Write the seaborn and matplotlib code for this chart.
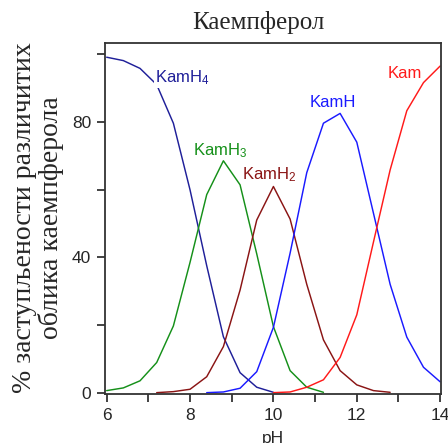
import matplotlib
matplotlib.use("Agg")
import matplotlib.pyplot as plt
import seaborn as sns
import pandas as pd

# ---- data ----
ph_kamh4 = [6.0, 6.4, 6.8, 7.2, 7.6, 8.0, 8.4, 8.8, 9.2, 9.6, 10.0]
val_kamh4 = [99.1, 98.1, 95.8, 91.0, 79.6, 59.9, 37.5, 16.5, 5.9, 1.6, 0.1]

ph_kamh3 = [6.0, 6.4, 6.8, 7.2, 7.6, 8.0, 8.4, 8.8, 9.2, 9.6, 10.0, 10.4, 10.8, 11.2]
val_kamh3 = [0.6, 1.4, 3.5, 8.9, 19.7, 38.5, 58.5, 68.5, 61.4, 41.0, 19.5, 6.5, 1.6, 0.1]

ph_kamh2 = [7.2, 7.6, 8.0, 8.4, 8.8, 9.2, 9.6, 10.0, 10.4, 10.8, 11.2, 11.6, 12.0, 12.4, 12.8]
val_kamh2 = [0.0, 0.3, 1.0, 4.7, 13.6, 30.3, 51.0, 60.9, 51.3, 32.0, 15.6, 6.5, 2.3, 0.6, 0.1]

ph_kamh = [8.4, 8.8, 9.2, 9.6, 10.0, 10.4, 10.8, 11.2, 11.6, 12.0, 12.4, 12.8, 13.2, 13.6, 14.0]
val_kamh = [0.0, 0.2, 1.3, 6.2, 19.3, 41.2, 65.0, 79.6, 82.5, 74.0, 53.0, 32.0, 16.4, 7.5, 3.2]

ph_kam = [10.0, 10.4, 10.8, 11.2, 11.6, 12.0, 12.4, 12.8, 13.2, 13.6, 14.0]
val_kam = [0.0, 0.2, 1.6, 3.8, 10.4, 23.0, 44.5, 65.8, 83.3, 91.6, 96.5]

species = ["KamH4", "KamH3", "KamH2", "KamH", "Kam"]
label_texts = ["KamH$_4$", "KamH$_3$", "KamH$_2$", "KamH", "Kam"]
label_ph = [7.16, 8.08, 9.24, 10.86, 12.73]
label_val = [91.6, 70.2, 63.0, 84.5, 92.9]
colors = ["#1f1f99", "#159019", "#8a1414", "#1a1aff", "#ff1a1a"]

title_text = "Каемпферол"
ylabel_text = "% заступљености различитих\nоблика каемпферола"
xlabel_text = "pH"
xticks_major = [6, 8, 10, 12, 14]
yticks_major = [0, 40, 80]

# ---- build long table ----
frames = []
for name, xs, ys in zip(species,
                        [ph_kamh4, ph_kamh3, ph_kamh2, ph_kamh, ph_kam],
                        [val_kamh4, val_kamh3, val_kamh2, val_kamh, val_kam]):
    frames.append(pd.DataFrame({"pH": xs, "pct": ys, "species": name}))
df = pd.concat(frames, ignore_index=True)

sns.set_style("white")
plt.rcParams["font.family"] = ["Liberation Sans", "DejaVu Sans"]
plt.rcParams["mathtext.fontset"] = "custom"
plt.rcParams["mathtext.rm"] = "Liberation Sans"
plt.rcParams["mathtext.it"] = "Liberation Sans"

fig = plt.figure(figsize=(4.48, 4.43), dpi=100)
ax = fig.add_axes([105 / 448, 1 - 394 / 443, 336 / 448, 351 / 443])

sns.lineplot(data=df, x="pH", y="pct", hue="species", hue_order=species,
             palette=dict(zip(species, colors)), sort=False, estimator=None,
             legend=False, linewidth=1.05, ax=ax)

ax.set_xlim(5.96, 14.02)
ax.set_ylim(-0.4, 103.3)
ax.set_xticks(range(6, 15), minor=False)
ax.set_xticklabels([str(t) if t in xticks_major else "" for t in range(6, 15)])
ax.set_yticks(range(0, 101, 20))
ax.set_yticklabels([str(t) if t in yticks_major else "" for t in range(0, 101, 20)])
ax.tick_params(axis="both", direction="out", length=6, width=1.2, color="#222222",
               labelsize=12.5, pad=4, left=True, bottom=True)
for s in ax.spines.values():
    s.set_color("#333333")
    s.set_linewidth(1.3)
ax.set_xlabel("")
ax.set_ylabel("")

for t, x, y, c in zip(label_texts, label_ph, label_val, colors):
    ax.text(x, y, t, color=c, fontsize=12, ha="left", va="baseline", zorder=5,
            bbox=dict(facecolor="white", edgecolor="none", pad=0.5))

fig.text(258.5 / 448, 1 - 29 / 443, title_text, ha="center", va="baseline",
         fontsize=18, family="Liberation Serif")
fig.text(38 / 448, 1 - 218 / 443, ylabel_text, rotation=90, ha="center",
         va="center", multialignment="center", fontsize=20,
         family="Liberation Serif", linespacing=1.05)
fig.text(272.5 / 448, 1 - 431 / 443, xlabel_text, ha="center", va="top",
         fontsize=12.5)

fig.savefig("out.png", dpi=100)
